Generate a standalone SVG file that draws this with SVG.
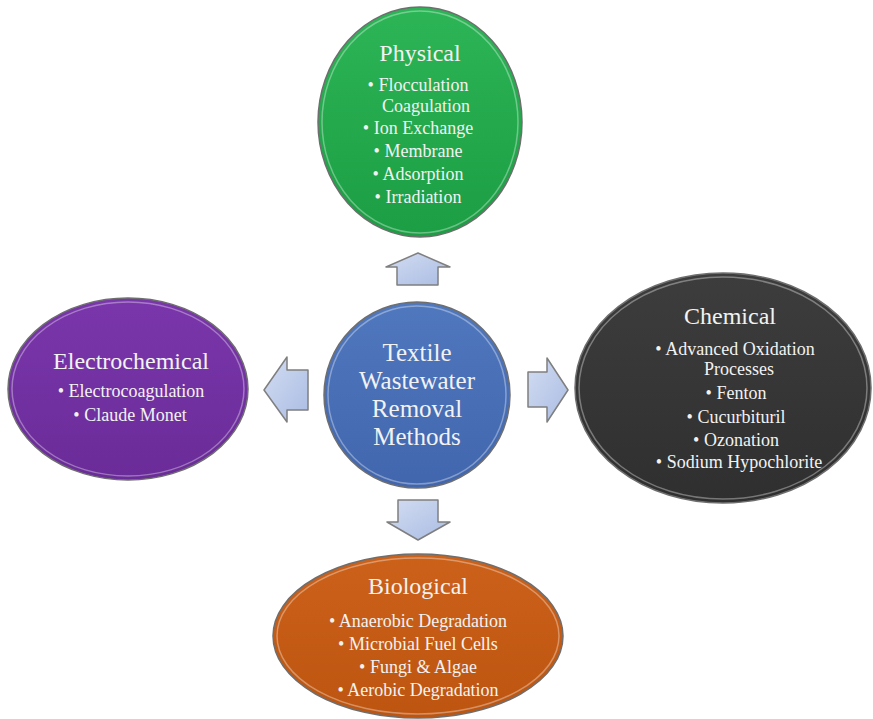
<svg xmlns="http://www.w3.org/2000/svg" width="873" height="719" viewBox="0 0 873 719">
  <defs>
    <linearGradient id="gGreen" x1="0" y1="0" x2="0" y2="1">
      <stop offset="0" stop-color="#2cb556"/>
      <stop offset="1" stop-color="#1c9e44"/>
    </linearGradient>
    <linearGradient id="gPurple" x1="0" y1="0" x2="0" y2="1">
      <stop offset="0" stop-color="#7a36ab"/>
      <stop offset="1" stop-color="#6a2c98"/>
    </linearGradient>
    <linearGradient id="gDark" x1="0" y1="0" x2="0" y2="1">
      <stop offset="0" stop-color="#3d3d3d"/>
      <stop offset="1" stop-color="#2f2f2f"/>
    </linearGradient>
    <linearGradient id="gOrange" x1="0" y1="0" x2="0" y2="1">
      <stop offset="0" stop-color="#cc611a"/>
      <stop offset="1" stop-color="#bd5510"/>
    </linearGradient>
    <linearGradient id="gBlue" x1="0" y1="0" x2="0" y2="1">
      <stop offset="0" stop-color="#5078bf"/>
      <stop offset="1" stop-color="#4166ad"/>
    </linearGradient>
    <linearGradient id="gArrow" x1="0" y1="0" x2="1" y2="1">
      <stop offset="0" stop-color="#d3ddf2"/>
      <stop offset="1" stop-color="#aabce3"/>
    </linearGradient>
  </defs>
  <style>
    .ell { stroke: #6e6e6e; stroke-width: 1.5; }
    .hl { fill: none; stroke: #ffffff; stroke-opacity: 0.35; stroke-width: 1.5; }
    .arrow { fill: url(#gArrow); stroke: #7f7f7f; stroke-width: 1.5; stroke-linejoin: round; }
    text { font-family: "Liberation Serif", "Times New Roman", serif; fill: #f2f2f2; text-anchor: middle; }
    .title { font-size: 24px; }
    .item { font-size: 18px; }
    .center { font-size: 25px; }
  </style>
  <rect width="873" height="719" fill="#ffffff"/>

  <g id="connectors">
    <path class="arrow" d="M418,253 L450,267 L438,267 L438,285 L397,285 L397,267 L386,267 Z"/>
    <path class="arrow" d="M398,500 L438,500 L438,522 L450,522 L418,540 L387,522 L398,522 Z"/>
    <path class="arrow" d="M528,372 L547,372 L547,358 L568,390 L547,422 L547,407 L528,407 Z"/>
    <path class="arrow" d="M308,370 L287,370 L287,357 L264,390 L287,422 L287,410 L308,410 Z"/>
  </g>

  <g id="physical">
    <ellipse class="ell" cx="420" cy="122" rx="102" ry="115" fill="url(#gGreen)"/>
    <ellipse class="hl" cx="420" cy="122" rx="98" ry="111"/>
    <text class="title" x="420" y="61">Physical</text>
    <text class="item" x="418" y="91">• Flocculation</text>
    <text class="item" x="426" y="112">Coagulation</text>
    <text class="item" x="418" y="134">• Ion Exchange</text>
    <text class="item" x="418" y="157">• Membrane</text>
    <text class="item" x="418" y="180">• Adsorption</text>
    <text class="item" x="418" y="203">• Irradiation</text>
  </g>

  <g id="center">
    <circle class="ell" cx="417" cy="395" r="93" fill="url(#gBlue)"/>
    <circle class="hl" cx="417" cy="395" r="89"/>
    <text class="center" x="417" y="361">Textile</text>
    <text class="center" x="417" y="389">Wastewater</text>
    <text class="center" x="417" y="417">Removal</text>
    <text class="center" x="417" y="445">Methods</text>
  </g>

  <g id="electrochemical">
    <ellipse class="ell" cx="128" cy="389" rx="120" ry="91" fill="url(#gPurple)"/>
    <ellipse class="hl" cx="128" cy="389" rx="116" ry="87"/>
    <text class="title" x="131" y="369">Electrochemical</text>
    <text class="item" x="131" y="397">• Electrocoagulation</text>
    <text class="item" x="130" y="421">• Claude Monet</text>
  </g>

  <g id="chemical">
    <ellipse class="ell" cx="723" cy="388" rx="148" ry="115" fill="url(#gDark)"/>
    <ellipse class="hl" cx="723" cy="388" rx="144" ry="111"/>
    <text class="title" x="730" y="324">Chemical</text>
    <text class="item" x="735" y="355">• Advanced Oxidation</text>
    <text class="item" x="739" y="375">Processes</text>
    <text class="item" x="736" y="399">• Fenton</text>
    <text class="item" x="736" y="423">• Cucurbituril</text>
    <text class="item" x="736" y="446">• Ozonation</text>
    <text class="item" x="739" y="468">• Sodium Hypochlorite</text>
  </g>

  <g id="biological">
    <ellipse class="ell" cx="418" cy="636" rx="145" ry="82" fill="url(#gOrange)"/>
    <ellipse class="hl" cx="418" cy="636" rx="141" ry="78"/>
    <text class="title" x="418" y="594">Biological</text>
    <text class="item" x="418" y="627">• Anaerobic Degradation</text>
    <text class="item" x="418" y="650">• Microbial Fuel Cells</text>
    <text class="item" x="418" y="673">• Fungi &amp; Algae</text>
    <text class="item" x="418" y="696">• Aerobic Degradation</text>
  </g>
</svg>
